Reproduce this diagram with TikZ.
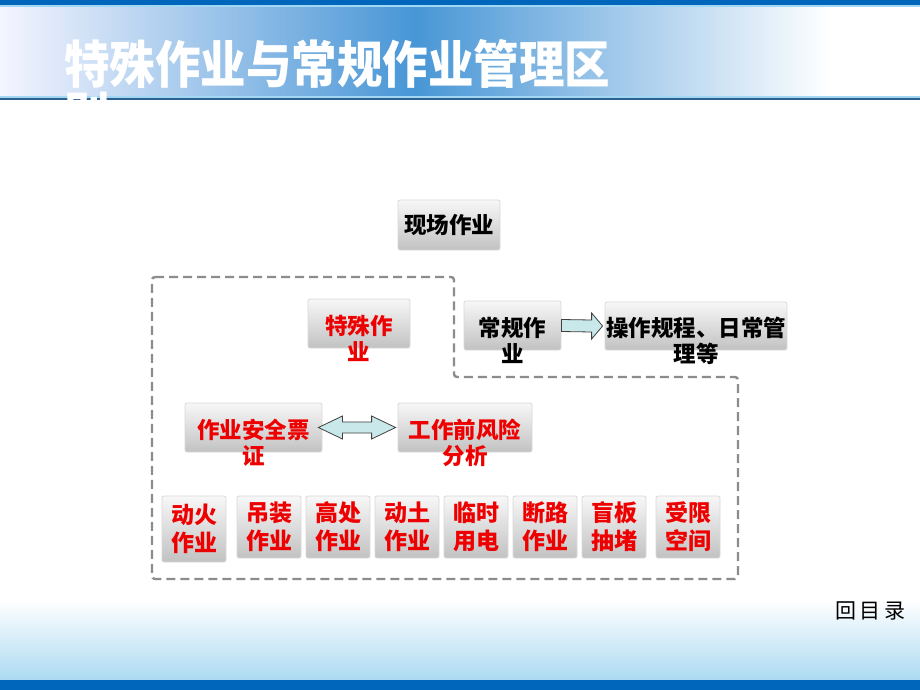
\documentclass[tikz,border=0pt]{standalone}
\usepackage{fontspec}
\newfontfamily\cjk{Noto Sans CJK SC}
\usetikzlibrary{calc}

\definecolor{barblue}{RGB}{0,102,187}
\definecolor{barlight}{RGB}{160,215,242}
\definecolor{bandblue}{RGB}{72,150,214}
\definecolor{linedark}{RGB}{45,95,145}
\definecolor{footblue}{RGB}{172,218,242}
\definecolor{arrowcyan}{RGB}{200,232,234}
\definecolor{framegrey}{RGB}{140,140,140}
\definecolor{txtred}{RGB}{238,0,0}

\tikzset{
  gbox/.style={draw=gray!30, line width=0.8pt, rounded corners=2pt,
    top color=gray!6, bottom color=gray!48, inner sep=0pt},
  rtxt/.style={text=txtred, font=\cjk\bfseries\fontsize{22.5}{26}\selectfont,
    align=center, inner sep=0pt},
  ktxt/.style={rtxt, text=black},
  btxt/.style={rtxt, font=\cjk\bfseries\fontsize{23}{28}\selectfont},
  barrow/.style={draw=black!75, line width=0.8pt, fill=arrowcyan, line join=miter},
  dashfrm/.style={draw=framegrey, line width=2.4pt, dash pattern=on 9pt off 5pt,
    rounded corners=3pt}
}

\begin{document}
\begin{tikzpicture}[x=1pt, y=-1pt]
  \useasboundingbox (0,0) rectangle (920,690);

  % background bars
  \fill[white] (0,0) rectangle (920,690);
  \fill[barblue] (0,0) rectangle (920,5);
  \fill[barlight] (0,5) rectangle (920,7.5);
  \shade[left color=blue!4, right color=white, middle color=bandblue] (0,7.5) rectangle (830,97);
  \fill[barlight] (0,96) rectangle (920,98);
  \fill[linedark] (0,98) rectangle (920,100.5);
  \shade[top color=white, bottom color=footblue] (0,600) rectangle (920,680);
  \fill[barblue] (0,680) rectangle (920,690);

  % title
  \node[anchor=west, text=white, inner sep=0pt, font=\cjk\bfseries\fontsize{45.5}{50}\selectfont]
    (title) at (64,64) {\scalebox{1}[1.12]{特殊作业与常规作业管理区}};
  \begin{scope}
    \clip (0,0) rectangle (920,103.5);
    \node[anchor=west, text=white, inner sep=0pt, font=\cjk\bfseries\fontsize{45.5}{50}\selectfont]
      (title2) at (64,116) {\scalebox{1}[1.12]{别}};
  \end{scope}

  % dashed region
  \draw[dashfrm] (152,277) -- (454,277) -- (454,377) -- (738,377) -- (738,579) -- (152,579) -- cycle;

  % top box
  \node[gbox, minimum width=102pt, minimum height=50pt] (xc) at (449,225) {};
  \node[ktxt] (xc-t) at (xc) {现场作业};

  % second level
  \node[gbox, minimum width=102pt, minimum height=49pt] (ts) at (359,323.5) {};
  \node[rtxt] (ts-t) at ([yshift=-15pt]ts.center) {特殊作\\业};
  \node[gbox, minimum width=97pt, minimum height=49pt] (cg) at (512.5,325.5) {};
  \node[ktxt] (cg-t) at ([yshift=-15pt]cg.center) {常规作\\业};
  \node[gbox, minimum width=182pt, minimum height=48pt] (cz) at (696,326) {};
  \node[ktxt] (cz-t) at ([yshift=-15pt]cz.center) {操作规程、日常管\\理等};

  \draw[barrow] ([yshift=6pt]cg.east) -- ([xshift=-13pt,yshift=6pt]cz.west)
    -- ([xshift=-13pt,yshift=13pt]cz.west) -- ([xshift=-2pt]cz.west)
    -- ([xshift=-13pt,yshift=-13pt]cz.west) -- ([xshift=-13pt,yshift=-6pt]cz.west)
    -- ([yshift=-6pt]cg.east) -- cycle;

  % third level
  \node[gbox, minimum width=137pt, minimum height=49pt] (aq) at (253.5,427.5) {};
  \node[rtxt] (aq-t) at ([yshift=-15pt]aq.center) {作业安全票\\证};
  \node[gbox, minimum width=134pt, minimum height=49pt] (gf) at (465,427.5) {};
  \node[rtxt] (gf-t) at ([yshift=-15pt]gf.center) {工作前风险\\分析};

  \draw[barrow] ([xshift=-4pt]aq.east) -- ([xshift=20pt,yshift=11.5pt]aq.east)
    -- ([xshift=20pt,yshift=5.5pt]aq.east) -- ([xshift=-26pt,yshift=5.5pt]gf.west)
    -- ([xshift=-26pt,yshift=11.5pt]gf.west) -- ([xshift=-2pt]gf.west)
    -- ([xshift=-26pt,yshift=-11.5pt]gf.west) -- ([xshift=-26pt,yshift=-5.5pt]gf.west)
    -- ([xshift=20pt,yshift=-5.5pt]aq.east) -- ([xshift=20pt,yshift=-11.5pt]aq.east) -- cycle;

  % bottom row
  \node[gbox, minimum width=64pt, minimum height=66pt] (dh) at (194,529) {};
  \node[btxt] (dh-t) at (dh) {动火\\作业};
  \node[gbox, minimum width=64pt, minimum height=62pt] (dz) at (269,527) {};
  \node[btxt] (dz-t) at (dz) {吊装\\作业};
  \node[gbox, minimum width=64pt, minimum height=62pt] (gc) at (338,527) {};
  \node[btxt] (gc-t) at (gc) {高处\\作业};
  \node[gbox, minimum width=64pt, minimum height=62pt] (dt) at (407,527) {};
  \node[btxt] (dt-t) at (dt) {动土\\作业};
  \node[gbox, minimum width=64pt, minimum height=62pt] (ls) at (476,527) {};
  \node[btxt] (ls-t) at (ls) {临时\\用电};
  \node[gbox, minimum width=64pt, minimum height=62pt] (dl) at (545,527) {};
  \node[btxt] (dl-t) at (dl) {断路\\作业};
  \node[gbox, minimum width=64pt, minimum height=62pt] (mb) at (614,527) {};
  \node[btxt] (mb-t) at (mb) {盲板\\抽堵};
  \node[gbox, minimum width=64pt, minimum height=62pt] (sx) at (688,527) {};
  \node[btxt] (sx-t) at (sx) {受限\\空间};

  % back link
  \node[inner sep=0pt, font=\cjk\fontsize{21}{24}\selectfont] (back) at (870,611) {回\,目\,录};
\end{tikzpicture}
\end{document}
